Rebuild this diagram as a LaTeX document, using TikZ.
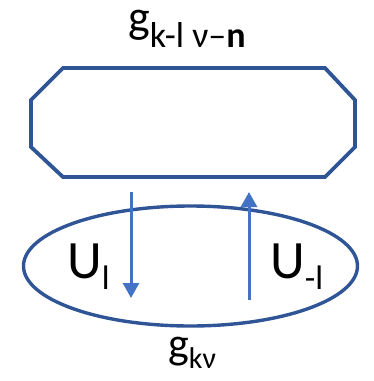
\documentclass[tikz,border=0pt]{standalone}
\usepackage{fontspec}
\setmainfont{Carlito}
\usetikzlibrary{arrows.meta,positioning,shapes.geometric}
\definecolor{cRing}{HTML}{2F5597}
\definecolor{cHop}{HTML}{4472C4}
\tikzset{
  >={Triangle[length=15pt, width=16pt]},
  bandline/.style={draw=cRing, line width=3.8pt, line join=miter},
  orbit/.style={draw=cRing, line width=3.4pt, ellipse,
                minimum width=334pt, minimum height=120pt, inner sep=0pt},
  hop/.style={->, draw=cHop, line width=3pt},
  lbl/.style={anchor=base west, inner sep=0pt, text=black, text height=22pt},
}
\newcommand{\lowsub}[3]{\raisebox{-#2pt}{\fontsize{#1}{#1}\selectfont #3}}

\begin{document}
\begin{tikzpicture}[x=1pt, y=-1pt]
    \useasboundingbox (0,0) rectangle (373,381);
    % chamfered band
    \draw[bandline] (63,68) -- (325,68) -- (355,100) -- (355,147) -- (325,177)
        -- (63,177) -- (31,147) -- (31,100) -- cycle;
    \node[orbit] (ring) at (190.5,266) {};
    \node[lbl] (gtop) at (128,32) {\fontsize{46}{46}\selectfont g\lowsub{36}{15}{k-l ν–\textbf{n}}};
    \node[lbl] (gbot) at (168,358) {\fontsize{44}{44}\selectfont g\lowsub{30}{10}{kν}};
    \node[lbl] (uplus) at (67,278) {\fontsize{54}{54}\selectfont U\lowsub{34}{11}{l}};
    \node[lbl] (uminus) at (270,278) {\fontsize{54}{54}\selectfont U\lowsub{34}{11}{-l}};
    \coordinate (dtop) at (131,192);
    \coordinate (dbot) at (131,298);
    \coordinate (ubot) at (249,300);
    \coordinate (utop) at (249,192);
    \draw[hop] (dtop) -- (dbot);
    \draw[hop] (ubot) -- (utop);
  \end{tikzpicture}
\end{document}
